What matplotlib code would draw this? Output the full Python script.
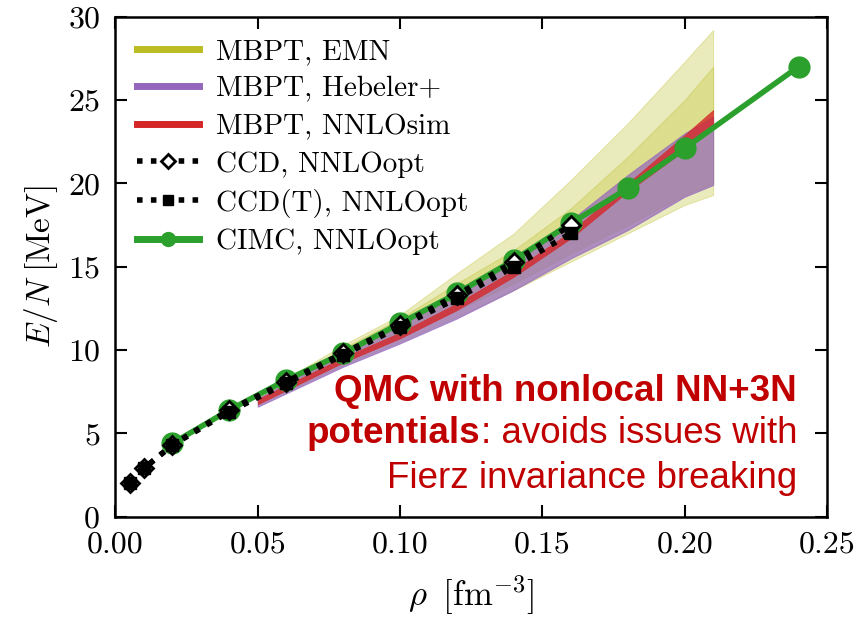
import matplotlib
matplotlib.use("Agg")
import matplotlib.pyplot as plt
from matplotlib.lines import Line2D

plt.rcParams["font.family"] = ["cmr10", "DejaVu Serif"]
plt.rcParams["mathtext.fontset"] = "cm"
plt.rcParams["axes.formatter.use_mathtext"] = True

# MBPT uncertainty bands
rho_band = [0.05, 0.08, 0.10, 0.12, 0.14, 0.16, 0.18, 0.20, 0.21]
emn_outer_lo = [6.7, 9.1, 10.5, 12.0, 13.6, 15.3, 17.0, 18.7, 19.3]
emn_outer_hi = [7.3, 10.3, 12.1, 14.6, 17.0, 20.2, 23.6, 27.3, 29.2]
emn_inner_lo = [6.8, 9.3, 10.8, 12.4, 14.0, 15.8, 17.5, 19.3, 20.0]
emn_inner_hi = [7.2, 10.1, 11.9, 14.0, 16.0, 18.5, 21.6, 25.0, 27.0]
heb_lo = [6.6, 9.0, 10.4, 11.9, 13.6, 15.5, 17.2, 19.2, 19.9]
heb_hi = [7.1, 9.8, 11.5, 13.4, 15.5, 17.8, 20.5, 23.0, 24.0]
sim_lo = [6.75, 9.25, 10.7, 12.4, 14.4, 16.7, 19.5, 22.0, 23.5]
sim_hi = [7.05, 9.55, 11.05, 12.8, 14.8, 17.1, 20.0, 22.9, 24.4]

# Coupled-cluster results
rho_cc = [0.005, 0.01, 0.02, 0.04, 0.06, 0.08, 0.10, 0.12, 0.14, 0.16]
e_ccd = [2.0, 2.9, 4.3, 6.4, 8.1, 9.8, 11.5, 13.3, 15.3, 17.5]
e_ccdt = [2.0, 2.9, 4.3, 6.3, 8.0, 9.7, 11.4, 13.1, 15.0, 17.0]

# CIMC results
rho_cimc = [0.02, 0.04, 0.06, 0.08, 0.10, 0.12, 0.14, 0.16, 0.18, 0.20, 0.24]
e_cimc = [4.4, 6.4, 8.2, 9.8, 11.6, 13.4, 15.4, 17.6, 19.7, 22.1, 27.0]

labels = ["MBPT, EMN", "MBPT, Hebeler+", "MBPT, NNLOsim",
          "CCD, NNLOopt", "CCD(T), NNLOopt", "CIMC, NNLOopt"]

c_emn, c_heb, c_sim, c_cimc = "#bcbd22", "#9467bd", "#d62728", "#2ca02c"

fig = plt.figure(figsize=(8.56, 6.17), dpi=100)
ax = fig.add_axes([0.1349, 0.1626, 0.8312, 0.8104])

ax.fill_between(rho_band, emn_outer_lo, emn_outer_hi, color=c_emn, alpha=0.3, lw=0.8, zorder=1)
ax.fill_between(rho_band, emn_inner_lo, emn_inner_hi, color=c_emn, alpha=0.3, lw=0.8, zorder=1)
ax.fill_between(rho_band, heb_lo, heb_hi, color=c_heb, alpha=0.7, lw=0.8, zorder=2)
ax.fill_between(rho_band, sim_lo, sim_hi, color=c_sim, alpha=0.8, lw=0.5, zorder=3)

ax.plot(rho_cimc, e_cimc, color=c_cimc, lw=4, marker="o", ms=15, zorder=4)
dots = (0, (1.0, 1.5))
ax.plot(rho_cc, e_ccd, color="black", lw=4, ls=dots, dash_capstyle="butt",
        marker="D", ms=9, mfc="white", mec="black", mew=2, zorder=5)
ax.plot(rho_cc, e_ccdt, color="black", lw=4, ls=dots, dash_capstyle="butt",
        marker="s", ms=8, mfc="black", mec="black", zorder=6)

handles = [
    Line2D([], [], color=c_emn, lw=5),
    Line2D([], [], color=c_heb, lw=5),
    Line2D([], [], color=c_sim, lw=5),
    Line2D([], [], color="black", lw=4, ls=dots, dash_capstyle="butt",
           marker="D", ms=7, mfc="white", mec="black", mew=2),
    Line2D([], [], color="black", lw=4, ls=dots, dash_capstyle="butt",
           marker="s", ms=7, mfc="black", mec="black"),
    Line2D([], [], color=c_cimc, lw=5, marker="o", ms=10),
]
ax.legend(handles, labels, loc="upper left", frameon=False, fontsize=21,
          handlelength=2.1, handletextpad=0.6, labelspacing=0.38,
          borderaxespad=0.35, borderpad=0.4)

ax.set_xlim(0, 0.25)
ax.set_ylim(0, 30)
ax.set_xticks([0.00, 0.05, 0.10, 0.15, 0.20, 0.25])
ax.set_yticks([0, 5, 10, 15, 20, 25, 30])
ax.set_xticklabels(["0.00", "0.05", "0.10", "0.15", "0.20", "0.25"])
ax.set_yticklabels(["0", "5", "10", "15", "20", "25", "30"])
ax.tick_params(direction="in", length=8.5, width=1.5, top=True, right=True,
               labelsize=23)
ax.tick_params(axis="x", pad=10)
ax.tick_params(axis="y", pad=11)
for s in ax.spines.values():
    s.set_linewidth(1.8)

ax.set_xlabel(r"$\rho\;\;[\mathrm{fm}^{-3}]$", fontsize=25, labelpad=11)
ax.set_ylabel(r"$E/N\;[\mathrm{MeV}]$", fontsize=24, labelpad=6)

# Annotation in the lower right
red = "#c00000"
tx = 0.958
ax.text(tx, 0.231, "QMC with nonlocal NN+3N", transform=ax.transAxes,
        ha="right", va="baseline", color=red, fontsize=26.5,
        family="Liberation Sans", fontweight="bold")
t2 = ax.text(tx, 0.147, ": avoids issues with", transform=ax.transAxes,
             ha="right", va="baseline", color=red, fontsize=26.5,
             family="Liberation Sans")
ax.annotate("potentials", xy=(0, 0), xycoords=t2, ha="right", va="bottom",
            color=red, fontsize=26.5, family="Liberation Sans", fontweight="bold")
ax.text(tx, 0.058, "Fierz invariance breaking", transform=ax.transAxes,
        ha="right", va="baseline", color=red, fontsize=26.5,
        family="Liberation Sans")

fig.savefig("out.png", dpi=100)
